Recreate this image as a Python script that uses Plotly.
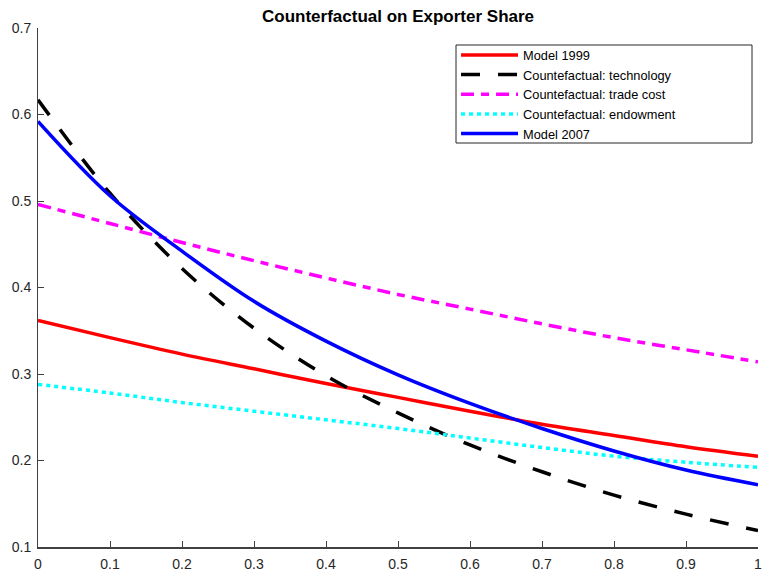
import plotly.graph_objects as go

x_vals = [0.0, 0.1, 0.2, 0.3, 0.4, 0.5, 0.6, 0.7, 0.8, 0.9, 1.0]
model_1999 = [0.362, 0.342, 0.323, 0.306, 0.289, 0.273, 0.257, 0.242, 0.229, 0.216, 0.205]
cf_technology = [0.617, 0.509, 0.422, 0.353, 0.298, 0.255, 0.218, 0.187, 0.160, 0.138, 0.119]
cf_trade_cost = [0.496, 0.474, 0.452, 0.431, 0.411, 0.392, 0.375, 0.358, 0.342, 0.328, 0.314]
cf_endowment = [0.288, 0.278, 0.267, 0.257, 0.247, 0.237, 0.226, 0.215, 0.205, 0.198, 0.192]
model_2007 = [0.592, 0.506, 0.442, 0.384, 0.338, 0.299, 0.266, 0.237, 0.211, 0.189, 0.172]

x_ticks = [0, 0.1, 0.2, 0.3, 0.4, 0.5, 0.6, 0.7, 0.8, 0.9, 1]
x_tick_labels = ["0", "0.1", "0.2", "0.3", "0.4", "0.5", "0.6", "0.7", "0.8", "0.9", "1"]
y_ticks = [0.1, 0.2, 0.3, 0.4, 0.5, 0.6, 0.7]
y_tick_labels = ["0.1", "0.2", "0.3", "0.4", "0.5", "0.6", "0.7"]

series = [
    ("Model 1999", model_1999, "#ff0000", "solid"),
    ("Countefactual: technology", cf_technology, "#000000", "19px,18px"),
    ("Countefactual: trade cost", cf_trade_cost, "#ff00ff", "13px,7px,8px,7px"),
    ("Countefactual: endowment", cf_endowment, "#00ffff", "4px,4px"),
    ("Model 2007", model_2007, "#0000ff", "solid"),
]

fig = go.Figure()
for name, ys, color, dash in series:
    fig.add_trace(go.Scatter(
        x=x_vals, y=ys, mode="lines", name=name,
        line=dict(color=color, width=3.5, dash=dash, shape="spline", smoothing=1.0),
    ))

axis_color = "#404040"
fig.update_layout(
    width=764, height=571,
    margin=dict(l=38, r=6, t=28, b=24, autoexpand=False),
    paper_bgcolor="white", plot_bgcolor="white",
    font=dict(family="Liberation Sans, Arial, sans-serif", size=14, color="#262626"),
    title=dict(text="<b>Counterfactual on Exporter Share</b>", x=0.521, xanchor="center",
               y=0.972, yanchor="middle", yref="container",
               font=dict(size=17, color="#000000", family="Liberation Sans, Arial, sans-serif")),
    showlegend=True,
    legend=dict(x=0.5806, y=0.9766, xanchor="left", yanchor="top",
                borderwidth=0, bgcolor="rgba(0,0,0,0)",
                font=dict(size=12.8, color="#000000"), itemwidth=57,
                tracegroupgap=0),
    shapes=[dict(type="rect", xref="paper", yref="paper",
                 x0=(456 - 38) / 720, x1=(752 - 38) / 720,
                 y0=(547 - 143) / 519, y1=(547 - 45) / 519,
                 line=dict(color="#262626", width=1), fillcolor="rgba(0,0,0,0)",
                 layer="above")],
    xaxis=dict(range=[0, 1], tickvals=x_ticks, ticktext=x_tick_labels, automargin=False,
               showgrid=False, zeroline=False, showline=True, linecolor=axis_color,
               linewidth=1.5, ticks="inside", ticklen=6, tickcolor=axis_color,
               ticklabelstandoff=3, mirror=False),
    yaxis=dict(range=[0.1, 0.7], tickvals=y_ticks, ticktext=y_tick_labels, automargin=False,
               showgrid=False, zeroline=False, showline=True, linecolor=axis_color,
               linewidth=1, ticks="inside", ticklen=6, tickcolor=axis_color,
               ticklabelstandoff=3, mirror=False),
)

fig.write_html(
    "out.html",
    config={"displayModeBar": False},
    post_script="document.body.style.margin='0';document.body.style.overflow='hidden';",
)
